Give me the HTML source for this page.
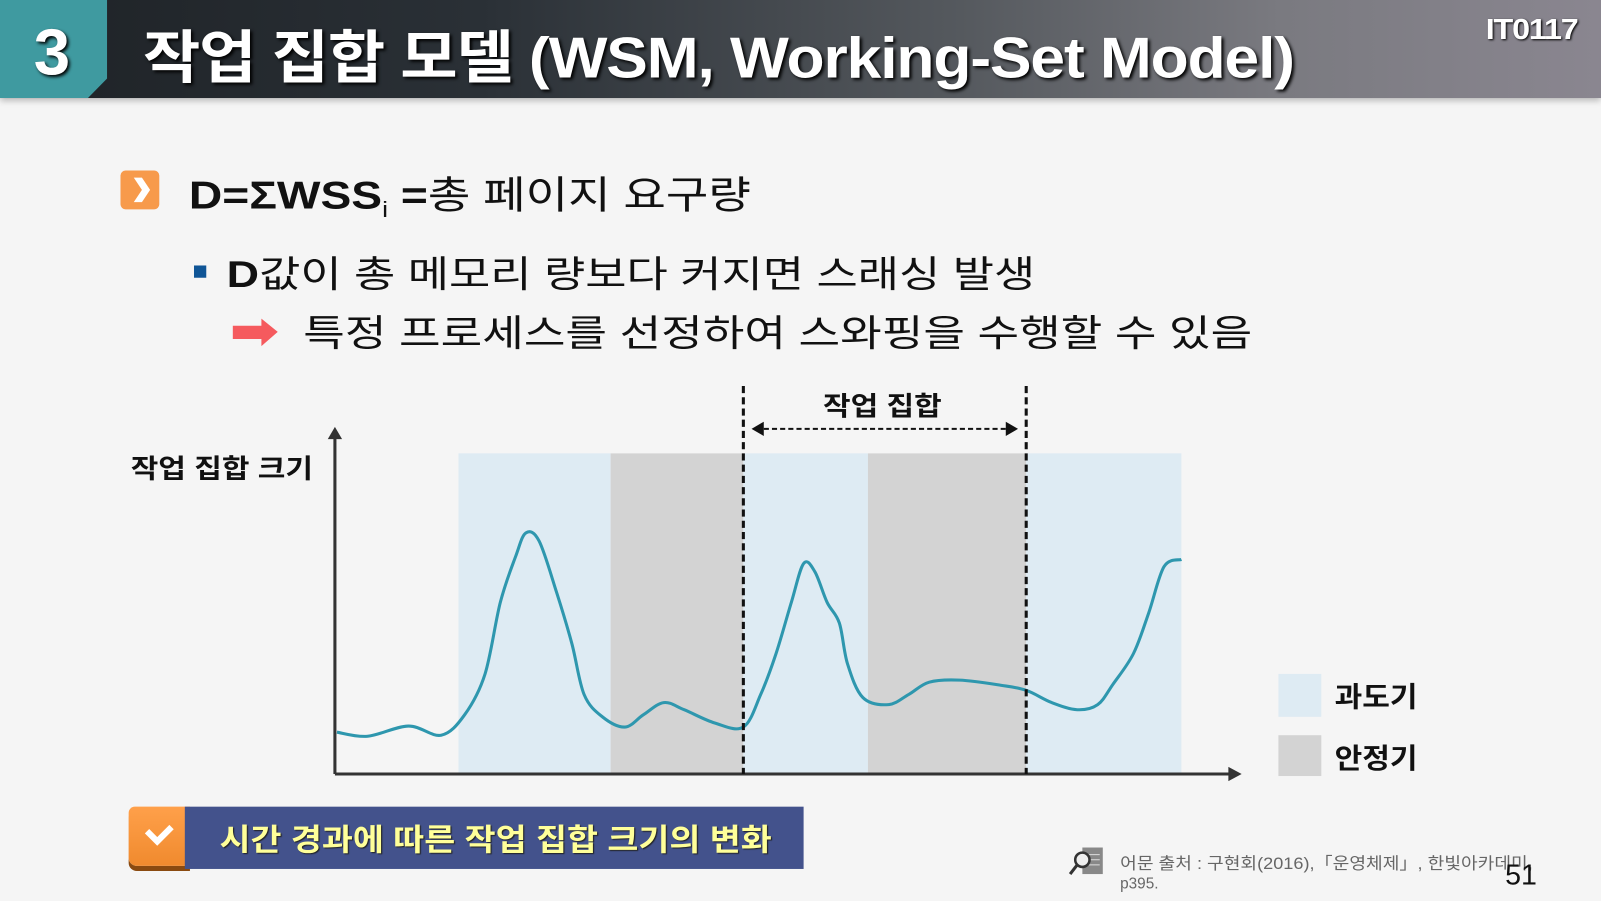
<!DOCTYPE html>
<html><head><meta charset="utf-8">
<style>
html,body{margin:0;padding:0;width:1601px;height:901px;overflow:hidden;background:#f5f5f5;}
#stage{position:absolute;left:0;top:0;width:1568px;height:882px;transform:scale(1.0211);transform-origin:0 0;font-family:"Liberation Sans","Noto Sans CJK KR",sans-serif;}
.abs{position:absolute;white-space:nowrap;transform-origin:0 50%;}
</style></head>
<body>
<div id="stage">
  <div class="abs" style="left:0;top:0;width:1568px;height:96px;background:linear-gradient(90deg,#1e2226 0%,#2a3036 30%,#55595e 60%,#7a7a80 80%,#8a8690 100%);box-shadow:0 3px 6px rgba(0,0,0,0.25);"></div>
  <div class="abs" style="left:0;top:0;width:105px;height:96px;background:#3f9aa0;clip-path:polygon(0 0,100% 0,100% 80%,82% 100%,0 100%);"></div>
  <div class="abs" style="left:33px;top:14px;font-size:64px;font-weight:bold;color:#fff;text-shadow:2px 2px 3px #000;">3</div>
  <div class="abs" style="left:140px;top:12px;font-size:56px;font-weight:bold;color:#fff;letter-spacing:-1px;text-shadow:2px 2px 3px #000;transform:scaleX(1.09);">작업 집합 모델 (WSM, Working-Set Model)</div>
  <div class="abs" style="left:1455px;top:13px;font-size:28px;font-weight:bold;color:#fff;letter-spacing:-1px;text-shadow:1px 1px 2px #000;transform:scaleX(1.13);">IT0117</div>

  <div class="abs" style="left:118px;top:167px;width:38px;height:38px;background:#f79a4b;border-radius:5px;"><svg width="38" height="38"><polygon points="13,7 21,7 29,19 21,31 13,31 21,19" fill="#fff"/></svg></div>
  <div class="abs" style="left:185px;top:160px;font-size:38px;color:#111;transform:scaleX(1.19);"><b>D=ΣWSS<sub style="font-size:22px;font-weight:normal">i</sub> =</b>총 페이지 요구량</div>
  <div class="abs" style="left:190px;top:260px;width:12px;height:12px;background:#0f5596;"></div>
  <div class="abs" style="left:222px;top:240px;font-size:36px;color:#111;transform:scaleX(1.22);"><b>D</b>값이 총 메모리 량보다 커지면 스래싱 발생</div>
  <svg class="abs" style="left:226px;top:309px" width="50" height="34"><polygon points="2,10 30,10 30,3 46,16 30,30 30,23 2,23" fill="#f55a5e"/></svg>
  <div class="abs" style="left:297px;top:298px;font-size:36px;color:#111;transform:scaleX(1.23);">특정 프로세스를 선정하여 스와핑을 수행할 수 있음</div>

  <svg id="chart" class="abs" style="left:0;top:0" width="1568" height="882"></svg>

  <div class="abs" style="left:128px;top:439px;font-size:26px;font-weight:bold;color:#111;transform:scaleX(1.13);">작업 집합 크기</div>
  <div class="abs" style="left:806px;top:378px;font-size:26px;font-weight:bold;color:#111;transform:scaleX(1.13);">작업 집합</div>
  <div class="abs" style="left:1252px;top:660px;width:42px;height:42px;background:#deebf3;"></div>
  <div class="abs" style="left:1307px;top:661px;font-size:27px;font-weight:bold;color:#111;transform:scaleX(1.09);">과도기</div>
  <div class="abs" style="left:1252px;top:720px;width:42px;height:40px;background:#d3d3d3;"></div>
  <div class="abs" style="left:1307px;top:721px;font-size:27px;font-weight:bold;color:#111;transform:scaleX(1.09);">안정기</div>

  <div class="abs" style="left:126px;top:790px;width:60px;height:58px;background:linear-gradient(180deg,#ffa04a,#f08a2e);border-radius:6px 0 0 8px;box-shadow:0 5px 0 #8a4a10;"><svg width="60" height="58"><polyline points="18,24 28,34 42,20" fill="none" stroke="#fff" stroke-width="6"/></svg></div>
  <div class="abs" style="left:181px;top:790px;width:606px;height:61px;background:#43528c;"></div>
  <div class="abs" style="left:215px;top:798px;font-size:30px;font-weight:bold;color:#ffff99;text-shadow:1px 1px 1px #222;transform:scaleX(1.10);">시간 경과에 따른 작업 집합 크기의 변화</div>

  <svg class="abs" style="left:1046px;top:830px" width="36" height="30"><rect x="14" y="0" width="20" height="26" fill="#888"/><line x1="18" y1="7" x2="31" y2="7" stroke="#ddd"/><line x1="18" y1="12" x2="31" y2="12" stroke="#ddd"/><line x1="18" y1="17" x2="31" y2="17" stroke="#ddd"/><circle cx="14" cy="12" r="7" fill="#eee" stroke="#333" stroke-width="2.5"/><line x1="9" y1="17" x2="2" y2="26" stroke="#333" stroke-width="3"/></svg>
  <div class="abs" style="left:1097px;top:832px;font-size:16px;color:#666;transform:scaleX(1.11);">어문 출처 : 구현회(2016),「운영체제」, 한빛아카데미,</div>
  <div class="abs" style="left:1097px;top:857px;font-size:15px;color:#666;">p395.</div>
  <div class="abs" style="left:1474px;top:841px;font-size:28px;color:#111;">51</div>
</div>
<script>
// time (t) and working-set size values
const times = [0.2,3.2,7.2,10.4,12.7,14.7,16.2,17.7,18.7,20,21.7,23.2,24.4,26.2,28.4,30.2,32.2,34.2,37.2,40,41.7,43.2,44.7,45.9,47,48.2,49.4,50.2,51.7,54.2,56.2,58.2,61.2,65.2,67.7,70.2,72.7,74.7,76.2,78.2,79.7,81.2,82.9];
const sizes = [12.3,11.1,14.1,11.4,17.4,29.4,50.5,64,70.9,68.5,53.5,38.4,23.4,16.8,13.8,17.4,21,18.9,15,13.8,23.4,35.4,50.5,61.9,59.5,50.5,44.4,32.4,22.5,20.4,23.4,27,27.6,26.1,24.6,21,18.9,20.4,26.4,35.4,47.4,61,63.1];
const phaseStarts = [12.1,27,40,52.2,67.7];
const phaseEnds = [27,40,52.2,67.7,82.9];
const phaseTypes = ["transition","stable","transition","stable","transition"];
const windowStart = 40, windowEnd = 67.7;

const NS="http://www.w3.org/2000/svg";
const svg=document.getElementById('chart');
const X0=328, Y0=758;
function xs(t){return X0+t*10;}
function ys(v){return Y0-v*3.33;}
function mk(tag,attrs){const e=document.createElementNS(NS,tag);for(const k in attrs)e.setAttribute(k,attrs[k]);svg.appendChild(e);return e;}

phaseStarts.forEach((s,i)=>{
  const r=mk('rect',{x:xs(s),y:444,width:xs(phaseEnds[i])-xs(s),height:Y0-444,fill:phaseTypes[i]==='stable'?'#d3d3d3':'#deebf3'});
  
  
});
const pts=times.map((t,i)=>[xs(t),ys(sizes[i])]);
let d='M'+pts[0][0]+','+pts[0][1];
for(let i=0;i<pts.length-1;i++){
  const p0=pts[i-1]||pts[i],p1=pts[i],p2=pts[i+1],p3=pts[i+2]||p2;
  d+=' C'+(p1[0]+(p2[0]-p0[0])/6)+','+(p1[1]+(p2[1]-p0[1])/6)+' '+(p2[0]-(p3[0]-p1[0])/6)+','+(p2[1]-(p3[1]-p1[1])/6)+' '+p2[0]+','+p2[1];
}
const line=mk('path',{d:d,fill:'none',stroke:'#2e97ae','stroke-width':3});


const ya=mk('line',{x1:X0,y1:Y0,x2:X0,y2:428,stroke:'#333','stroke-width':3});


mk('polygon',{points:(X0-7)+',430 '+(X0+7)+',430 '+X0+',418',fill:'#333'});
const xa=mk('line',{x1:X0,y1:Y0,x2:1205,y2:Y0,stroke:'#333','stroke-width':3});


mk('polygon',{points:'1203,751 1203,765 1216,758',fill:'#333'});
[windowStart,windowEnd].forEach((t,i)=>{
  const l=mk('line',{x1:xs(t),y1:378,x2:xs(t),y2:Y0,stroke:'#111','stroke-width':3,'stroke-dasharray':'7,4'});
  
  
});
const wa=mk('line',{x1:xs(windowStart)+12,y1:420,x2:xs(windowEnd)-12,y2:420,stroke:'#111','stroke-width':2,'stroke-dasharray':'5,3'});


mk('polygon',{points:(xs(windowStart)+8)+',420 '+(xs(windowStart)+20)+',413 '+(xs(windowStart)+20)+',427',fill:'#111'});
mk('polygon',{points:(xs(windowEnd)-8)+',420 '+(xs(windowEnd)-20)+',413 '+(xs(windowEnd)-20)+',427',fill:'#111'});
</script>
</body></html>
